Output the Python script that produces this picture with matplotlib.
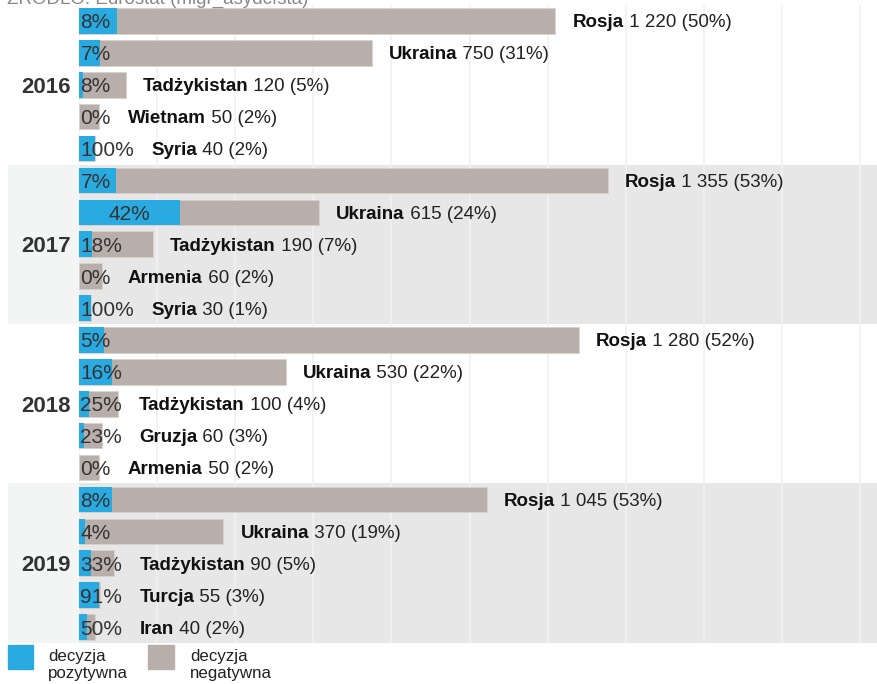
import matplotlib

matplotlib.use("Agg")
import matplotlib.pyplot as plt  # noqa: E402
from matplotlib.patches import Rectangle  # noqa: E402

plt.rcParams["font.family"] = ["Liberation Sans", "DejaVu Sans"]

# --- dane (Eurostat, migr_asydcfsta) ---
years = ["2016", "2017", "2018", "2019"]
countries = [
    ["Rosja", "Ukraina", "Tadżykistan", "Wietnam", "Syria"],
    ["Rosja", "Ukraina", "Tadżykistan", "Armenia", "Syria"],
    ["Rosja", "Ukraina", "Tadżykistan", "Gruzja", "Armenia"],
    ["Rosja", "Ukraina", "Tadżykistan", "Turcja", "Iran"],
]
totals = [
    [1220, 750, 120, 50, 40],
    [1355, 615, 190, 60, 30],
    [1280, 530, 100, 60, 50],
    [1045, 370, 90, 55, 40],
]
shares = [
    [50, 31, 5, 2, 2],
    [53, 24, 7, 2, 1],
    [52, 22, 4, 3, 2],
    [53, 19, 5, 3, 2],
]
positive_pct = [
    [8, 7, 8, 0, 100],
    [7, 42, 18, 0, 100],
    [5, 16, 25, 23, 0],
    [8, 4, 33, 91, 50],
]
grid_ticks = list(range(0, 2001, 200))

BLUE = "#29abe2"
GRAY = "#b8afab"
BAND = "#e7e7e7"
BAND_LIGHT = "#f3f4f4"
TXT = "#222222"

W, H = 878, 684
fig = plt.figure(figsize=(W / 100, H / 100), dpi=100)
top_px, bot_px = 5, 643
ax = fig.add_axes([79 / W, 1 - bot_px / H, 1 - 79 / W, (bot_px - top_px) / H])
ay = fig.add_axes([8 / W, 1 - bot_px / H, 71 / W, (bot_px - top_px) / H])

n_rows = sum(len(c) for c in countries)
for a in (ax, ay):
    a.set_ylim(n_rows - 0.5, -0.5)
    for s in a.spines.values():
        s.set_visible(False)
    a.tick_params(length=0, labelbottom=False, labelleft=False)
ax.set_xlim(0, 2046)
ay.set_xlim(0, 1)
ay.set_yticks([])
ax.set_yticks([])
ax.set_xticks(grid_ticks)
ax.grid(axis="x", color="#f1f1f1", lw=1.2, zorder=0.5)
ax.set_axisbelow(True)

rows = []
row = 0
for gi, yr in enumerate(years):
    n = len(countries[gi])
    if gi % 2 == 1:
        ax.axhspan(row - 0.5, row + n - 0.5, color=BAND, zorder=0.2, lw=0)
        ay.axhspan(row - 0.5, row + n - 0.5, color=BAND_LIGHT, zorder=0.2, lw=0)
    ay.text(0.89, row + (n - 1) / 2, yr, ha="right", va="center_baseline",
            fontsize=16, fontweight="bold", color="#333333")
    for ci in range(n):
        tot = totals[gi][ci]
        pos = tot * positive_pct[gi][ci] / 100
        ax.barh(row, tot, height=0.8, color=GRAY, zorder=2, edgecolor="#d8d2cf", lw=0.6)
        ax.barh(row, pos, height=0.8, color=BLUE, zorder=3, lw=0)
        rows.append((row, gi, ci, tot, pos))
        row += 1

# etykiety procentowe w slupkach
fig.canvas.draw()
renderer = fig.canvas.get_renderer()
px_per_unit = ax.transData.transform((1, 0))[0] - ax.transData.transform((0, 0))[0]
pct_labels = []
for r, gi, ci, tot, pos in rows:
    label = f"{positive_pct[gi][ci]}%"
    if pos > 150:
        t = ax.text(pos / 2, r, label, ha="center", va="center_baseline",
                    fontsize=15, color="#333333", zorder=4)
    else:
        t = ax.text(1.5 / px_per_unit, r, label, ha="left", va="center_baseline",
                    fontsize=15, color="#333333", zorder=4)
    pct_labels.append(t)

fig.canvas.draw()
for (r, gi, ci, tot, pos), t in zip(rows, pct_labels):
    bb = t.get_window_extent(renderer)
    right = ax.transData.inverted().transform((bb.x1, 0))[0]
    x0 = max(tot, right) + 17 / px_per_unit
    name = ax.text(x0, r, countries[gi][ci], ha="left", va="center_baseline",
                   fontsize=13.5, fontweight="bold", color="#111111", zorder=4)
    num = f"{tot:,}".replace(",", " ")
    ax.annotate(f" {num} ({shares[gi][ci]}%)", xy=(1, 0), xycoords=name,
                xytext=(0, 0), textcoords="offset points", ha="left", va="bottom",
                fontsize=13.5, color=TXT, zorder=4, annotation_clip=False)

# legenda
fig.patches.append(Rectangle((8 / W, 1 - 669 / H), 25 / W, 24 / H, transform=fig.transFigure,
                             color=BLUE, figure=fig))
fig.patches.append(Rectangle((148 / W, 1 - 669 / H), 26 / W, 24 / H, transform=fig.transFigure,
                             color=GRAY, figure=fig))
fig.text(48 / W, 1 - 649 / H, "decyzja\npozytywna", ha="left", va="top", fontsize=12.2,
         color=TXT, linespacing=1.2)
fig.text(190 / W, 1 - 649 / H, "decyzja\nnegatywna", ha="left", va="top", fontsize=12.2,
         color=TXT, linespacing=1.2)

# zrodlo (uciete u gory)
fig.text(7 / W, 1 - 4 / H, "ŹRÓDŁO: Eurostat (migr_asydcfsta)", ha="left", va="baseline",
         fontsize=13.5, color="#888888")

fig.savefig("out.png", dpi=100)
